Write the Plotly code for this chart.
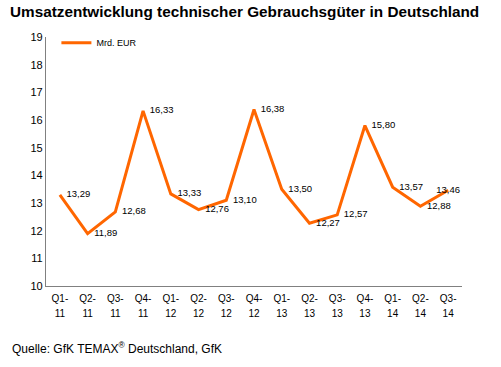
import plotly.graph_objects as go

quarters = ["Q1-", "Q2-", "Q3-", "Q4-", "Q1-", "Q2-", "Q3-", "Q4-", "Q1-", "Q2-", "Q3-", "Q4-", "Q1-", "Q2-", "Q3-"]
years = ["11", "11", "11", "11", "12", "12", "12", "12", "13", "13", "13", "13", "14", "14", "14"]
values = [13.29, 11.89, 12.68, 16.33, 13.33, 12.76, 13.10, 16.38, 13.50, 12.27, 12.57, 15.80, 13.57, 12.88, 13.46]
labels = [f"{v:.2f}".replace(".", ",") for v in values]
y_ticks = list(range(10, 20))

idx = list(range(len(values)))
positions = ["middle right"] * (len(values) - 1) + ["middle center"]

FONT = "Liberation Sans, Arial, sans-serif"
W, H = 501, 367
ml, mr, mt, mb = 46, 39, 37, 37
plot_h = H - mt - mb
ybottom = 286
dom0 = (H - mb - ybottom) / plot_h

fig = go.Figure()
fig.add_trace(go.Scatter(
    x=idx, y=values, mode="lines+markers+text", name="Mrd. EUR",
    line=dict(color="#FF6600", width=3),
    marker=dict(size=9, color="rgba(0,0,0,0)"),
    text=labels, textposition=positions,
    textfont=dict(family=FONT, size=9.5, color="#000000"),
    cliponaxis=False,
))

fig.update_layout(
    width=W, height=H,
    margin=dict(l=ml, r=mr, t=mt, b=mb),
    paper_bgcolor="white", plot_bgcolor="white",
    font=dict(family=FONT, color="#000000"),
    showlegend=True,
    legend=dict(x=0.025, y=1.03, xanchor="left", yanchor="top",
                font=dict(family=FONT, size=9), bgcolor="rgba(0,0,0,0)"),
    xaxis=dict(
        range=[-0.5, 14.5], tickmode="array", tickvals=idx, ticktext=quarters,
        showline=True, linecolor="#808080", linewidth=1.2, showgrid=False,
        zeroline=False, ticks="outside", ticklen=3, tickcolor="rgba(0,0,0,0)",
        tickfont=dict(family=FONT, size=10), anchor="y",
    ),
    xaxis2=dict(
        range=[-0.5, 14.5], tickmode="array", tickvals=idx, ticktext=years,
        overlaying="x", anchor="free", position=(H - mb - (ybottom + 20)) / plot_h,
        showline=False, showgrid=False, zeroline=False, ticks="",
        tickfont=dict(family=FONT, size=10), matches="x",
    ),
    yaxis=dict(
        range=[10, 19], tickmode="array", tickvals=y_ticks,
        domain=[dom0, 1],
        showline=True, linecolor="#808080", linewidth=1.2, showgrid=False,
        zeroline=False, ticks="", tickfont=dict(family=FONT, size=11),
    ),
    title=dict(text="<b>Umsatzentwicklung technischer Gebrauchsgüter in Deutschland</b>",
               x=10 / W, xanchor="left", y=1 - 12 / H, yanchor="middle",
               font=dict(family=FONT, size=15.3, color="#000000")),
)
fig.add_trace(go.Scatter(x=idx, y=values, xaxis="x2", mode="lines",
                         line=dict(width=0), showlegend=False, hoverinfo="skip"))

fig.add_annotation(text="Quelle: GfK TEMAX<sup>®</sup> Deutschland, GfK",
                   xref="paper", yref="paper", x=(10 - ml) / (W - ml - mr),
                   y=(H - mb - 348) / plot_h, xanchor="left", yanchor="middle",
                   showarrow=False, font=dict(family=FONT, size=12, color="#000000"))

fig.write_html("out.html", config={"displayModeBar": False},
               post_script="document.body.style.margin='0';")
